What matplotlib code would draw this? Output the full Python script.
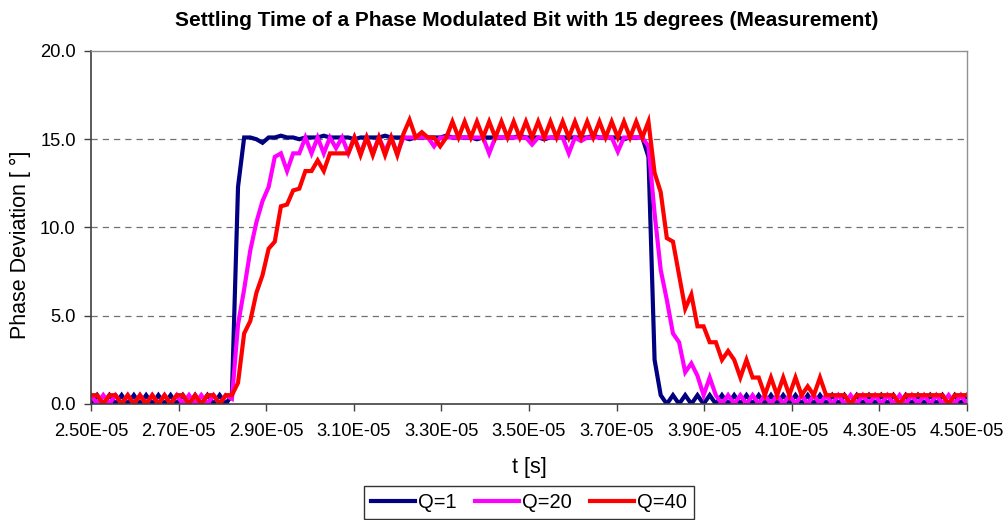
import matplotlib
matplotlib.use('Agg')
import matplotlib.pyplot as plt
import numpy as np
from matplotlib.ticker import FixedLocator, FuncFormatter

plt.rcParams['font.family'] = ['Liberation Sans', 'DejaVu Sans']

# time axis of the measurement (144 samples between 25 us and 45 us)
t = np.linspace(2.5e-5, 4.5e-5, 144)
xticks = [2.5e-5, 2.7e-5, 2.9e-5, 3.1e-5, 3.3e-5, 3.5e-5, 3.7e-5, 3.9e-5, 4.1e-5, 4.3e-5, 4.5e-5]
yticks = [0, 5, 10, 15, 20]

# Q=1
q1 = [0.0, 0.5, 0.0, 0.5, 0.0, 0.5, 0.0, 0.5, 0.0, 0.5, 0.0, 0.5,
      0.0, 0.5, 0.0, 0.5, 0.0, 0.5, 0.0, 0.5, 0.0, 0.5, 0.0,
      0.5, 12.3, 15.1, 15.1, 15.0, 14.8, 15.1,
      15.1, 15.2, 15.1, 15.1, 15.0, 15.1, 15.1, 15.1, 15.2, 15.1, 15.1, 15.1,
      15.1, 15.0, 15.1, 15.1, 15.1, 15.1, 15.2, 15.1, 15.1, 15.1, 15.0, 15.1,
      15.1, 15.1, 15.1, 15.1, 15.2, 15.1, 15.1, 15.1, 15.1, 15.0, 15.1, 15.1,
      15.1, 15.1, 15.1, 15.1, 15.2, 15.1, 15.1, 15.1, 15.0, 15.1, 15.1, 15.1,
      15.1, 15.1, 15.1, 15.1, 15.2, 15.1, 15.1, 15.1, 15.1, 15.0, 15.1, 15.1,
      15.1,
      14.0, 2.5, 0.5,
      0.0, 0.5, 0.0, 0.5, 0.0, 0.5, 0.0, 0.5, 0.0, 0.5, 0.0, 0.5, 0.0, 0.5,
      0.0, 0.5, 0.0, 0.5, 0.0, 0.5, 0.0, 0.5, 0.0, 0.5, 0.0, 0.5, 0.0, 0.5,
      0.0, 0.5, 0.0, 0.5, 0.0, 0.5, 0.0, 0.5, 0.0, 0.5, 0.0, 0.5, 0.0, 0.5,
      0.0, 0.5, 0.0, 0.5, 0.0, 0.5, 0.0, 0.5]

# Q=20
q20 = [0.5, 0.0, 0.5, 0.0, 0.5, 0.0, 0.5, 0.0, 0.5, 0.0, 0.5, 0.0,
       0.5, 0.0, 0.5, 0.0, 0.5, 0.0, 0.5, 0.0, 0.5, 0.0, 0.5,
       0.3, 4.5, 6.5, 8.7, 10.3, 11.5, 12.3, 14.0, 14.2, 13.2, 14.2, 14.2,
       15.1, 14.2, 15.1, 14.2, 15.1, 14.5, 15.1, 14.2, 15.1, 14.2, 15.1, 14.2,
       15.1, 14.3, 15.1, 14.2,
       15.1, 15.1, 15.1, 15.1, 15.1, 14.6, 15.1, 15.1, 15.1, 15.1, 15.1, 15.1,
       15.1, 15.1, 14.2, 15.1, 15.1, 15.1, 15.1, 15.1, 15.1, 14.7, 15.1, 15.1,
       15.1, 15.1, 15.1, 14.2, 15.1, 14.9, 15.1, 15.1, 15.1, 15.1, 15.1, 14.3,
       15.1, 15.1, 15.1, 15.1,
       14.6, 10.8, 7.6, 5.9, 4.0, 3.5, 1.8, 2.3, 1.6, 0.5, 1.5, 0.5,
       0.0, 0.5, 0.0, 0.5, 0.0, 0.5, 0.0, 0.5, 0.0, 0.5, 0.0, 0.5, 0.0, 0.5,
       0.0, 0.5, 0.0, 0.5, 0.0, 0.5, 0.0, 0.5, 0.0, 0.5, 0.0, 0.5, 0.0, 0.5,
       0.0, 0.5, 0.0, 0.5, 0.0, 0.5, 0.0, 0.5, 0.0, 0.5, 0.0, 0.5, 0.0]

# Q=40
q40 = [0.5, 0.5, 0.0, 0.5, 0.5, 0.0, 0.5, 0.0, 0.5, 0.0, 0.5, 0.0,
       0.5, 0.0, 0.5, 0.5, 0.0, 0.5, 0.0, 0.5, 0.5, 0.0, 0.5,
       0.5, 1.2, 4.0, 4.7, 6.3, 7.3, 8.8, 9.2, 11.2, 11.3, 12.1, 12.2,
       13.2, 13.2, 13.8, 13.2, 14.2, 14.2, 14.2, 14.2, 15.1, 14.1, 15.1, 14.1,
       15.1, 14.1, 15.1, 14.1, 15.3, 16.1, 15.1, 15.4, 15.1, 15.1, 14.6, 15.1,
       16.0, 15.1, 16.0, 15.1, 16.0, 15.1, 16.0, 15.1, 16.0, 15.1, 16.0, 15.1,
       16.0, 15.1, 16.0, 15.1, 16.0, 15.1, 16.0, 15.1, 16.0, 15.1, 16.0, 15.1,
       16.0, 15.1, 16.0, 15.1, 16.0, 15.1, 16.0, 15.1, 16.0,
       13.1, 12.0, 9.4, 9.2, 7.3, 5.4, 6.2, 4.4, 4.4, 3.5, 3.5, 2.5,
       3.0, 2.5, 1.5, 2.5, 1.5, 1.5, 0.5, 1.5, 0.5, 1.5, 0.5, 1.5,
       0.5, 1.0, 0.5, 1.5,
       0.5, 0.5, 0.5, 0.5, 0.0, 0.5, 0.5, 0.5, 0.5, 0.5, 0.5, 0.5,
       0.0, 0.5, 0.5, 0.5, 0.5, 0.5, 0.5, 0.5, 0.0, 0.5, 0.5, 0.5]

series = [('Q=1', q1, '#000080'), ('Q=20', q20, '#FF00FF'), ('Q=40', q40, '#FF0000')]

fig = plt.figure(figsize=(10.08, 5.2), dpi=100)
ax = fig.add_axes([91 / 1008, 116 / 520, 876 / 1008, 353 / 520])

for name, vals, col in series:
    ax.plot(t, vals, color=col, lw=3.0, label=name, solid_joinstyle='miter')

ax.set_xlim(xticks[0], xticks[-1])
ax.set_ylim(yticks[0], yticks[-1])
ax.xaxis.set_major_locator(FixedLocator(xticks))
ax.yaxis.set_major_locator(FixedLocator(yticks))
ax.xaxis.set_major_formatter(FuncFormatter(lambda v, p: '%.2E' % v))
ax.yaxis.set_major_formatter(FuncFormatter(lambda v, p: '%.1f' % v))
ax.tick_params(axis='both', direction='out', length=5, width=1, color='#404040',
               labelsize=13.2, colors='black')
ax.tick_params(axis='x', pad=9)
ax.tick_params(axis='y', pad=6)

for y in yticks[1:-1]:
    ax.axhline(y, color='#707070', lw=0.9, dashes=(5, 4), zorder=0)

for s in ['left', 'bottom']:
    ax.spines[s].set_color('#404040')
    ax.spines[s].set_linewidth(1.2)
for s in ['top', 'right']:
    ax.spines[s].set_color('#909090')
    ax.spines[s].set_linewidth(1.0)

ax.set_xlabel('t [s]', fontsize=15.5, labelpad=12)
ax.set_ylabel('Phase Deviation [ \u00b0]', fontsize=15.5)
ax.yaxis.set_label_coords(-0.068, 0.45)
fig.text(527 / 1008, 1 - 20 / 520, 'Settling Time of a Phase Modulated Bit with 15 degrees (Measurement)',
         ha='center', va='center', fontsize=15, fontweight='bold')

leg = fig.legend(loc='upper center', bbox_to_anchor=(529 / 1008, 1 - 486 / 520), ncol=3,
                 fontsize=14.5, frameon=True, fancybox=False, handlelength=2.2,
                 handletextpad=0.15, columnspacing=0.9, borderpad=0.35, borderaxespad=0)
leg.get_frame().set_edgecolor('black')
leg.get_frame().set_linewidth(1.0)

fig.savefig('out.png', dpi=100)
